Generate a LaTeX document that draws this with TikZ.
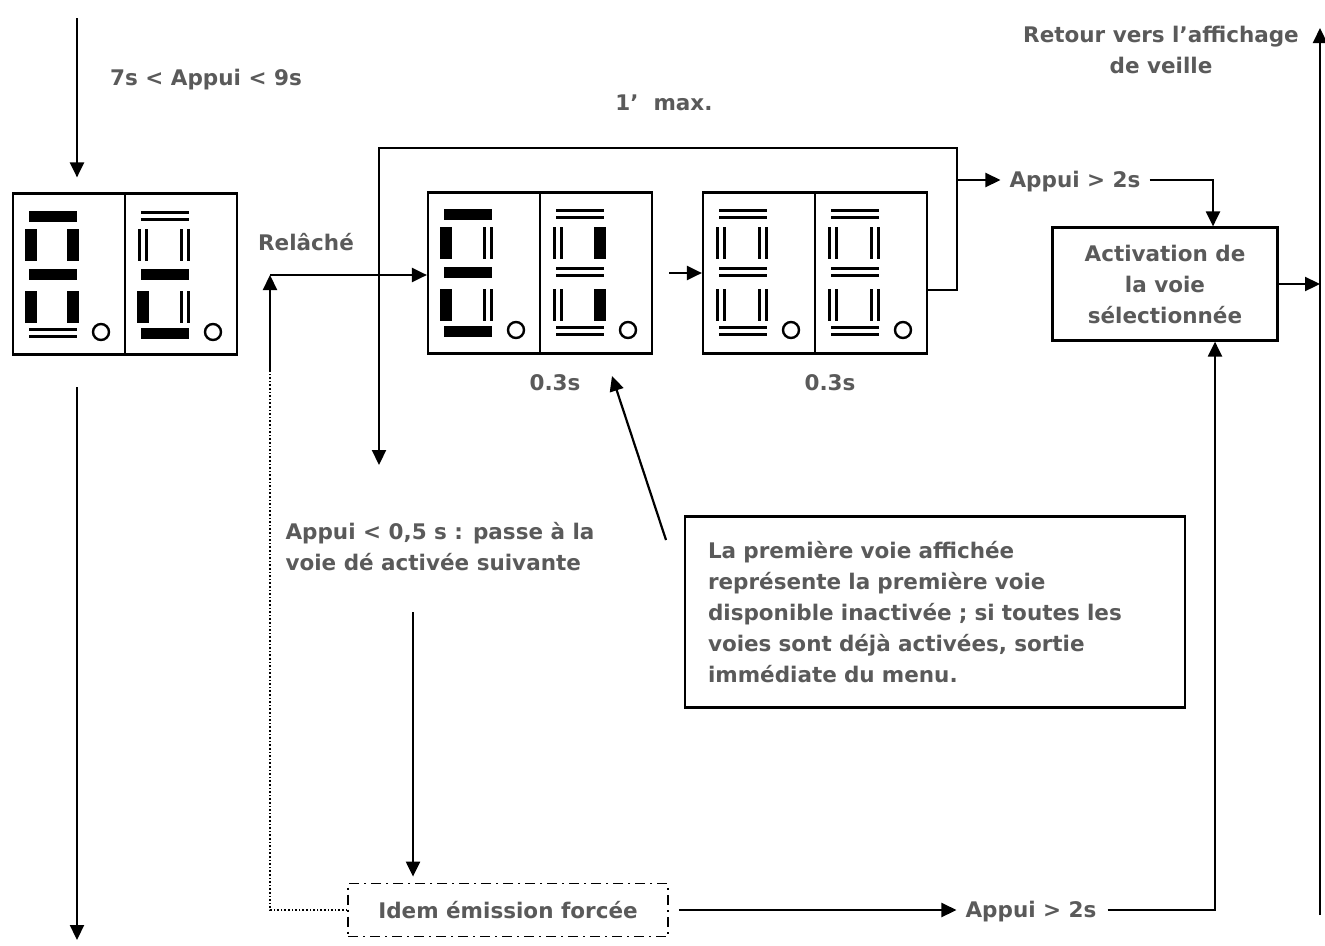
\documentclass[tikz,border=0pt]{standalone}
\usepackage{fontspec}
\setmainfont{DejaVu Sans}
\usetikzlibrary{arrows.meta, positioning}
\definecolor{labelgrey}{RGB}{90,90,90}
\tikzset{x=1pt, y=-1pt, >={Triangle[length=15pt,width=14pt]}}

% one segment, lit (1) or not (0)
\newcommand\hseg[3]{%
  \ifnum#1=1
    \fill (#2,#3) ++(0,-5.5) rectangle ++(48,11);
  \else
    \draw[seg off] (#2,#3) ++(0,-3.5) -- ++(48,0) ++(-48,7) -- ++(48,0);
  \fi}
\newcommand\vseg[3]{%
  \ifnum#1=1
    \fill (#2,#3) ++(-6,0) rectangle ++(12,32);
  \else
    \draw[seg off] (#2,#3) ++(-3.5,0) -- ++(0,32) ++(7,-32) -- ++(0,32);
  \fi}
% digit cell: top-left corner, then segments a b c d e f g
\newcommand\digit[9]{%
  \hseg{#3}{#1+16}{#2+22}
  \vseg{#4}{#1+60}{#2+35}
  \vseg{#5}{#1+60}{#2+97}
  \hseg{#6}{#1+16}{#2+139}
  \vseg{#7}{#1+18}{#2+97}
  \vseg{#8}{#1+18}{#2+35}
  \hseg{#9}{#1+16}{#2+80}
  \draw[seg off] (#1+88,#2+138) circle[radius=8pt];
}

\begin{document}
\begin{tikzpicture}
% Style
[
    line width=2.2pt,
    label text/.style={text=labelgrey, font=\fontsize{21.5}{31}\selectfont\bfseries, inner sep=2pt},
    display/.style={draw, minimum width=224pt, minimum height=161pt, inner sep=0pt},
    seg off/.style={line width=2.4pt},
    action box/.style={draw, label text, align=center, minimum width=225pt, minimum height=113pt},
    info box/.style={draw, label text, align=left, text width=454pt, inner xsep=23pt, minimum height=191pt},
    forced box/.style={draw, label text, minimum width=320pt, minimum height=53pt,
        line width=1.8pt, dash pattern=on 10pt off 5pt on 2pt off 5pt}
]
\useasboundingbox (0,0) rectangle (1325,945);

%=================================== Displays ===================================
\node[display] (disp1) at (125,274) {};
\node[display] (disp2) at (540,273) {};
\node[display] (disp3) at (815,273) {};
\foreach \d in {disp1,disp2,disp3}
    \draw (\d.north) -- (\d.south);

\digit{13}{194}{1}{1}{1}{0}{1}{1}{1}
\digit{125}{194}{0}{0}{0}{1}{1}{0}{1}
\digit{428}{192}{1}{0}{0}{1}{1}{1}{1}
\digit{540}{192}{0}{1}{1}{0}{0}{0}{0}
\digit{703}{192}{0}{0}{0}{0}{0}{0}{0}
\digit{815}{192}{0}{0}{0}{0}{0}{0}{0}

%=================================== Labels ===================================
\node[label text] (press9) at (206,80) {7s < Appui < 9s};
\node[label text] (release) at (306,242) {Relâché};
\node[label text] (maxtime) at (664,103) {1’\ \ max.};
\node[label text] (t1) at (555,383) {0.3s};
\node[label text] (t2) at (830,383) {0.3s};
\node[label text, align=left] (short) at (440,547) {Appui < 0,5 s : passe à la\\voie dé activée suivante};
\node[label text, align=center] (back) at (1161,50) {Retour vers l’affichage\\de veille};
\node[label text] (longA) at (1075,182) {Appui > 2s};
\node[label text] (longB) at (1031,912) {Appui > 2s};

\node[action box] (act) at (1165,284) {Activation de\\la voie\\sélectionnée};
\node[info box] (note) at (935,612) {La première voie affichée\\représente la première voie\\disponible inactivée ; si toutes les\\voies sont déjà activées, sortie\\immédiate du menu.};
\node[forced box] (forced) at (508,910) {Idem émission forcée};

%=================================== Connectors ===================================
\coordinate (in1) at (77,18);
\coordinate (out1) at (77,387);
\coordinate (end1) at (77,940);
\draw[->, shorten >=15pt] (in1) -- (in1 |- disp1.north);
\draw[->] (out1) -- (end1);

\coordinate (corner) at (270,275);
\coordinate (dotted top) at (270,372);
\draw[line width=1.6pt, dotted] (forced.west) -| (dotted top);
\draw[->] (dotted top) -- (corner);
\draw[->] (corner) -- (corner -| disp2.west);
\draw[->, shorten <=16pt] (disp2.east) -- (disp3.west);

\coordinate (loop top) at (957,148);
\coordinate (loop end) at (379,465);
\coordinate (tap) at (957,180);
\draw[->] ([yshift=-17pt]disp3.east) -| (loop top) -| (loop end);
\draw[->, shorten >=6pt] (tap) -- (tap -| longA.west);
\draw[->, shorten <=6pt] (longA.east |- tap) -| ([xshift=48pt]act.north);

\coordinate (note tail) at (666,540);
\coordinate (note tip) at (612,376);
\draw[->] (note tail) -- (note tip);

\coordinate (short tail) at (413,612);
\draw[->, shorten >=6pt] (short tail) -- (short tail |- forced.north);
\draw[->, shorten <=10pt, shorten >=6pt] (forced.east) -- (forced.east -| longB.west);
\draw[->, shorten <=8pt] (longB.east |- forced.east) -| ([xshift=50pt]act.south);

\coordinate (back low) at (1320,915);
\coordinate (back top) at (1320,28);
\draw[->] (back low) -- (back top);
\draw[->] (act.east) -- (act.east -| back low);

\end{tikzpicture}
\end{document}
